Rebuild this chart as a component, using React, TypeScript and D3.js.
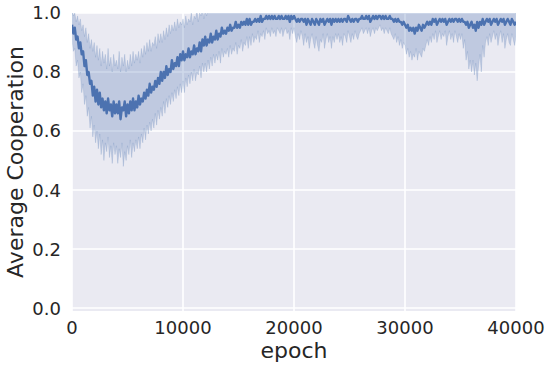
import React from "react";
import * as d3 from "d3";

// epoch step between samples
const epochStep = 125;

// mean cooperation, every 125 epochs (16 per row = 2000 epochs)
const meanCoop = [
  0.96, 0.93, 0.95, 0.91, 0.92, 0.88, 0.9, 0.86, 0.87, 0.82, 0.84, 0.79, 0.8, 0.76, 0.77, 0.72,
  0.75, 0.7, 0.74, 0.69, 0.73, 0.68, 0.71, 0.67, 0.7, 0.66, 0.71, 0.67, 0.69, 0.65, 0.7, 0.66,
  0.69, 0.66, 0.7, 0.64, 0.68, 0.67, 0.7, 0.65, 0.69, 0.66, 0.7, 0.67, 0.71, 0.67, 0.7, 0.68,
  0.72, 0.69, 0.71, 0.7, 0.73, 0.71, 0.74, 0.72, 0.76, 0.73, 0.75, 0.74, 0.77, 0.75, 0.78, 0.76,
  0.8, 0.77, 0.8, 0.78, 0.82, 0.79, 0.81, 0.8, 0.84, 0.81, 0.83, 0.82, 0.85, 0.82, 0.86, 0.84,
  0.87, 0.84, 0.86, 0.85, 0.88, 0.85, 0.87, 0.86, 0.89, 0.86, 0.88, 0.87, 0.9, 0.87, 0.91, 0.89,
  0.92, 0.89, 0.91, 0.9, 0.93, 0.9, 0.92, 0.91, 0.94, 0.91, 0.93, 0.92, 0.95, 0.93, 0.94, 0.93,
  0.95, 0.94, 0.96, 0.94, 0.95, 0.95, 0.97, 0.95, 0.96, 0.95, 0.97, 0.96, 0.97, 0.96, 0.98, 0.96,
  0.98, 0.96, 0.97, 0.97, 0.98, 0.97, 0.98, 0.97, 0.99, 0.97, 0.98, 0.98, 0.99, 0.98, 0.99, 0.98,
  0.99, 0.98, 0.99, 0.98, 0.98, 0.99, 0.98, 0.99, 0.98, 0.98, 0.99, 0.98, 0.99, 0.97, 0.99, 0.98,
  0.99, 0.98, 0.97, 0.98, 0.97, 0.98, 0.98, 0.97, 0.98, 0.96, 0.98, 0.97, 0.96, 0.98, 0.97, 0.96,
  0.98, 0.97, 0.96, 0.98, 0.97, 0.98, 0.96, 0.97, 0.98, 0.97, 0.98, 0.96, 0.98, 0.97, 0.98, 0.97,
  0.98, 0.97, 0.98, 0.97, 0.98, 0.98, 0.97, 0.99, 0.98, 0.97, 0.98, 0.97, 0.98, 0.98, 0.97, 0.98,
  0.98, 0.99, 0.98, 0.98, 0.99, 0.98, 0.99, 0.97, 0.98, 0.99, 0.98, 0.99, 0.98, 0.99, 0.99, 0.98,
  0.99, 0.98, 0.99, 0.98, 0.98, 0.99, 0.98, 0.98, 0.97, 0.98, 0.97, 0.98, 0.97, 0.97, 0.96, 0.97,
  0.96, 0.95, 0.96, 0.94, 0.95, 0.94, 0.95, 0.93, 0.95, 0.94, 0.96, 0.95, 0.94, 0.96, 0.95, 0.96,
  0.97, 0.96, 0.97, 0.96, 0.98, 0.97, 0.98, 0.96, 0.97, 0.98, 0.97, 0.98, 0.97, 0.98, 0.96, 0.97,
  0.98, 0.97, 0.98, 0.97, 0.98, 0.98, 0.97, 0.98, 0.97, 0.98, 0.97, 0.97, 0.96, 0.97, 0.95, 0.96,
  0.97, 0.95, 0.96, 0.94, 0.97, 0.95, 0.97, 0.96, 0.98, 0.96, 0.97, 0.98, 0.97, 0.98, 0.96, 0.97,
  0.98, 0.97, 0.98, 0.96, 0.97, 0.98, 0.97, 0.98, 0.96, 0.97, 0.98, 0.97, 0.96, 0.98, 0.97, 0.96,
  0.97,
];

// lower edge of the confidence band
const lowerCoop = [
  0.91, 0.87, 0.88, 0.82, 0.84, 0.78, 0.8, 0.73, 0.76, 0.69, 0.72, 0.65, 0.68, 0.61, 0.65, 0.58,
  0.62, 0.56, 0.6, 0.54, 0.59, 0.52, 0.57, 0.5, 0.56, 0.53, 0.58, 0.51, 0.55, 0.49, 0.56, 0.52,
  0.55, 0.49, 0.54, 0.51, 0.56, 0.48, 0.53, 0.5, 0.55, 0.52, 0.57, 0.51, 0.56, 0.53, 0.57, 0.54,
  0.58, 0.54, 0.59, 0.56, 0.61, 0.57, 0.62, 0.59, 0.63, 0.6, 0.64, 0.61, 0.66, 0.62, 0.67, 0.64,
  0.68, 0.65, 0.7, 0.66, 0.71, 0.68, 0.72, 0.69, 0.73, 0.7, 0.74, 0.71, 0.75, 0.72, 0.76, 0.73,
  0.77, 0.73, 0.78, 0.75, 0.79, 0.76, 0.8, 0.77, 0.81, 0.77, 0.8, 0.79, 0.82, 0.78, 0.83, 0.8,
  0.83, 0.8, 0.84, 0.81, 0.85, 0.82, 0.86, 0.83, 0.86, 0.84, 0.87, 0.83, 0.88, 0.85, 0.87, 0.86,
  0.88, 0.85, 0.89, 0.86, 0.88, 0.87, 0.9, 0.86, 0.89, 0.88, 0.91, 0.87, 0.9, 0.89, 0.92, 0.88,
  0.92, 0.89, 0.93, 0.9, 0.92, 0.91, 0.94, 0.9, 0.93, 0.92, 0.94, 0.91, 0.95, 0.93, 0.94, 0.92,
  0.95, 0.93, 0.94, 0.92, 0.95, 0.94, 0.93, 0.95, 0.92, 0.94, 0.95, 0.93, 0.94, 0.91, 0.95, 0.93,
  0.95, 0.92, 0.9, 0.93, 0.91, 0.94, 0.92, 0.89, 0.93, 0.9, 0.92, 0.88, 0.91, 0.93, 0.9, 0.88,
  0.92, 0.89, 0.87, 0.91, 0.9, 0.93, 0.88, 0.91, 0.93, 0.9, 0.92, 0.88, 0.92, 0.9, 0.93, 0.91,
  0.93, 0.9, 0.92, 0.89, 0.93, 0.92, 0.9, 0.94, 0.92, 0.9, 0.93, 0.91, 0.94, 0.92, 0.91, 0.93,
  0.94, 0.95, 0.93, 0.94, 0.95, 0.93, 0.95, 0.92, 0.94, 0.95, 0.93, 0.95, 0.94, 0.95, 0.96, 0.94,
  0.95, 0.93, 0.95, 0.94, 0.93, 0.95, 0.93, 0.92, 0.91, 0.93, 0.9, 0.92, 0.89, 0.91, 0.88, 0.9,
  0.89, 0.86, 0.88, 0.85, 0.87, 0.84, 0.86, 0.85, 0.88, 0.84, 0.87, 0.86, 0.85, 0.88, 0.87, 0.89,
  0.91, 0.89, 0.92, 0.9, 0.93, 0.91, 0.94, 0.9, 0.92, 0.94, 0.91, 0.93, 0.92, 0.94, 0.89, 0.92,
  0.94, 0.91, 0.93, 0.9, 0.94, 0.92, 0.9, 0.93, 0.91, 0.93, 0.88, 0.91, 0.84, 0.87, 0.81, 0.84,
  0.8, 0.84, 0.79, 0.83, 0.77, 0.82, 0.86, 0.8, 0.89, 0.85, 0.9, 0.92, 0.89, 0.93, 0.9, 0.92,
  0.94, 0.91, 0.93, 0.89, 0.92, 0.94, 0.9, 0.93, 0.88, 0.91, 0.93, 0.9, 0.89, 0.93, 0.91, 0.89,
  0.92,
];

// upper edge of the confidence band (clipped at 1.0 by the axes)
const upperCoop = [
  1.01, 0.99, 1.0, 0.97, 0.99, 0.96, 0.98, 0.94, 0.96, 0.92, 0.95, 0.9, 0.93, 0.88, 0.91, 0.87,
  0.9, 0.85, 0.89, 0.84, 0.88, 0.82, 0.87, 0.83, 0.86, 0.81, 0.88, 0.82, 0.85, 0.8, 0.86, 0.82,
  0.84, 0.81, 0.87, 0.8, 0.85, 0.82, 0.86, 0.8, 0.84, 0.81, 0.86, 0.82, 0.87, 0.83, 0.86, 0.84,
  0.87, 0.83, 0.88, 0.85, 0.89, 0.86, 0.9, 0.87, 0.91, 0.87, 0.9, 0.89, 0.92, 0.88, 0.93, 0.9,
  0.93, 0.9, 0.94, 0.91, 0.95, 0.92, 0.96, 0.93, 0.96, 0.94, 0.97, 0.94, 0.98, 0.95, 0.97, 0.96,
  0.98, 0.95, 0.99, 0.96, 0.98, 0.97, 1.0, 0.96, 0.99, 0.98, 1.01, 0.97, 1.0, 0.99, 1.02, 0.98,
  1.01, 0.99, 1.02, 1.0, 1.02, 1.01, 1.03, 1.0, 1.02, 1.01, 1.03, 1.02, 1.03, 1.02, 1.03, 1.02,
  1.03, 1.02, 1.03, 1.02, 1.03, 1.02, 1.03, 1.02, 1.03, 1.02, 1.03, 1.02, 1.03, 1.02, 1.03, 1.02,
  1.03, 1.02, 1.03, 1.02, 1.03, 1.02, 1.03, 1.02, 1.03, 1.02, 1.03, 1.02, 1.03, 1.02, 1.03, 1.02,
  1.03, 1.02, 1.03, 1.02, 1.03, 1.02, 1.03, 1.02, 1.03, 1.02, 1.03, 1.02, 1.03, 1.02, 1.03, 1.02,
  1.03, 1.02, 1.03, 1.02, 1.03, 1.02, 1.03, 1.02, 1.03, 1.02, 1.03, 1.02, 1.03, 1.02, 1.03, 1.02,
  1.03, 1.02, 1.03, 1.02, 1.03, 1.02, 1.03, 1.02, 1.03, 1.02, 1.03, 1.02, 1.03, 1.02, 1.03, 1.02,
  1.03, 1.02, 1.03, 1.02, 1.03, 1.02, 1.03, 1.02, 1.03, 1.02, 1.03, 1.02, 1.03, 1.02, 1.03, 1.02,
  1.03, 1.02, 1.03, 1.02, 1.03, 1.02, 1.03, 1.02, 1.03, 1.02, 1.03, 1.02, 1.03, 1.02, 1.03, 1.02,
  1.03, 1.02, 1.03, 1.02, 1.03, 1.02, 1.03, 1.02, 1.03, 1.02, 1.03, 1.02, 1.03, 1.02, 1.03, 1.02,
  1.03, 1.02, 1.03, 1.02, 1.03, 1.02, 1.03, 1.02, 1.03, 1.02, 1.03, 1.02, 1.03, 1.02, 1.03, 1.02,
  1.03, 1.02, 1.03, 1.02, 1.03, 1.02, 1.03, 1.02, 1.03, 1.02, 1.03, 1.02, 1.03, 1.02, 1.03, 1.02,
  1.03, 1.02, 1.03, 1.02, 1.03, 1.02, 1.03, 1.02, 1.03, 1.02, 1.03, 1.02, 1.03, 1.02, 1.03, 1.02,
  1.03, 1.02, 1.03, 1.02, 1.03, 1.02, 1.03, 1.02, 1.03, 1.02, 1.03, 1.02, 1.03, 1.02, 1.03, 1.02,
  1.03, 1.02, 1.03, 1.02, 1.03, 1.02, 1.03, 1.02, 1.03, 1.02, 1.03, 1.02, 1.03, 1.02, 1.03, 1.02,
  1.03,
];

const xTicks = [0, 10000, 20000, 30000, 40000];
const yTicks = [0, 0.2, 0.4, 0.6, 0.8, 1.0];

const blue = "#4C72B0";
const ink = "#262626";
const font = "DejaVu Sans, sans-serif";

const App = () => {
  const width = 554;
  const height = 370;
  const margin = { top: 13, right: 38, bottom: 59, left: 72 };
  const plotW = width - margin.left - margin.right;
  const plotH = height - margin.top - margin.bottom;

  const x = d3.scaleLinear().domain([0, 40000]).range([0, plotW]);
  const y = d3.scaleLinear().domain([-0.01, 1.0]).range([plotH, 0]);

  const rows = meanCoop.map((m, i) => ({
    epoch: i * epochStep,
    mean: m,
    lo: lowerCoop[i],
    hi: upperCoop[i],
  }));

  const band = d3
    .area<any>()
    .x((d) => x(d.epoch))
    .y0((d) => y(d.lo))
    .y1((d) => y(d.hi));

  const line = d3
    .line<any>()
    .x((d) => x(d.epoch))
    .y((d) => y(d.mean));

  return (
    <svg
      width={width}
      height={height}
      style={{ position: "absolute", left: 0, top: 0 }}
    >
      <defs>
        <clipPath id="plot-clip">
          <rect x={0} y={0} width={plotW} height={plotH} />
        </clipPath>
      </defs>
      <g transform={`translate(${margin.left},${margin.top})`}>
        <rect x={0} y={0} width={plotW} height={plotH} fill="#EAEAF2" />
        {xTicks.map((t) => (
          <line
            key={"gx" + t}
            x1={x(t)}
            x2={x(t)}
            y1={0}
            y2={plotH}
            stroke="#fff"
            strokeWidth={1.6}
          />
        ))}
        {yTicks.map((t) => (
          <line
            key={"gy" + t}
            x1={0}
            x2={plotW}
            y1={y(t)}
            y2={y(t)}
            stroke="#fff"
            strokeWidth={1.6}
          />
        ))}
        <g clipPath="url(#plot-clip)">
          <path d={band(rows) || ""} fill={blue} fillOpacity={0.27} />
          <path
            d={band(rows) || ""}
            fill="none"
            stroke={blue}
            strokeOpacity={0.22}
            strokeWidth={0.8}
          />
          <path
            d={line(rows) || ""}
            fill="none"
            stroke={blue}
            strokeWidth={2.4}
            strokeLinejoin="round"
          />
        </g>
        {xTicks.map((t) => (
          <text
            key={"tx" + t}
            x={x(t)}
            y={plotH + 23}
            textAnchor="middle"
            fontFamily={font}
            fontSize={18}
            fill={ink}
          >
            {t}
          </text>
        ))}
        {yTicks.map((t) => (
          <text
            key={"ty" + t}
            x={-11}
            y={y(t)}
            dy="0.36em"
            textAnchor="end"
            fontFamily={font}
            fontSize={18}
            fill={ink}
          >
            {t.toFixed(1)}
          </text>
        ))}
        <text
          x={plotW / 2}
          y={plotH + 47}
          textAnchor="middle"
          fontFamily={font}
          fontSize={22}
          fill={ink}
        >
          epoch
        </text>
        <text
          transform={`translate(${-49},${plotH / 2}) rotate(-90)`}
          textAnchor="middle"
          fontFamily={font}
          fontSize={22}
          fill={ink}
        >
          Average Cooperation
        </text>
      </g>
    </svg>
  );
};

export default App;
